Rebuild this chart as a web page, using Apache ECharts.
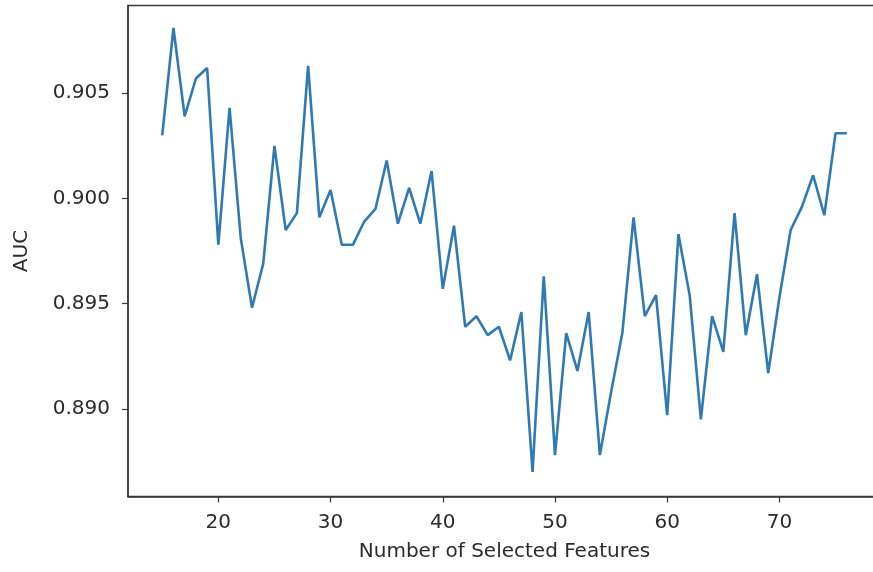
<!DOCTYPE html>
<html>
<head>
	<meta http-equiv="Content-Type" content="text/html; charset=UTF-8">
	<title>AUC vs Number of Selected Features</title>
	<script src="https://cdn.jsdelivr.net/npm/echarts@6/dist/echarts.min.js"></script>
	<style>
		body { margin: 0; background: #fff; }
	</style>
</head>
<body>

	<div id="main" style="width: 873px;height:572px;"></div>

	<script>
		// number of selected features (x)
		var features = [15, 16, 17, 18, 19, 20, 21, 22, 23, 24, 25, 26, 27, 28, 29, 30,
			31, 32, 33, 34, 35, 36, 37, 38, 39, 40, 41, 42, 43, 44, 45, 46,
			47, 48, 49, 50, 51, 52, 53, 54, 55, 56, 57, 58, 59, 60, 61, 62,
			63, 64, 65, 66, 67, 68, 69, 70, 71, 72, 73, 74, 75, 76];

		// AUC
		var auc = [0.9030, 0.9081, 0.9039, 0.9057, 0.9062, 0.8978, 0.9043, 0.8981,
			0.8948, 0.8969, 0.9025, 0.8985, 0.8993, 0.9063, 0.8991, 0.9004,
			0.8978, 0.8978, 0.8989, 0.8995, 0.9018, 0.8988, 0.9005, 0.8988,
			0.9013, 0.8957, 0.8987, 0.8939, 0.8944, 0.8935, 0.8939, 0.8923,
			0.8946, 0.8870, 0.8963, 0.8878, 0.8936, 0.8918, 0.8946, 0.8878,
			0.8908, 0.8936, 0.8991, 0.8944, 0.8954, 0.8897, 0.8983, 0.8954,
			0.8895, 0.8944, 0.8927, 0.8993, 0.8935, 0.8964, 0.8917, 0.8953,
			0.8985, 0.8996, 0.9011, 0.8992, 0.9031, 0.9031];

		var xTicks = [20, 30, 40, 50, 60, 70];
		var yTicks = [0.890, 0.895, 0.900, 0.905];

		var points = [];
		for (var i = 0; i < features.length; i++) {
			points.push([features[i], auc[i]]);
		}

		var chartDom = document.getElementById('main');
		var myChart = echarts.init(chartDom);

		var textColor = '#2b2b2b';
		var axisColor = '#3a3a3a';
		var fontFamily = 'DejaVu Sans';

		var option = {
			backgroundColor: '#fff',
			animation: false,
			grid: {
				left: 128,
				top: 5.5,
				width: 753,
				height: 491,
				outerBoundsMode: 'none',
				containLabel: false,
				show: true,
				borderColor: axisColor,
				borderWidth: 1.5
			},
			xAxis: {
				type: 'value',
				min: 11.95,
				max: 79.05,
				name: 'Number of Selected Features',
				nameLocation: 'middle',
				nameGap: 45,
				nameTextStyle: { color: textColor, fontSize: 20, fontFamily: fontFamily },
				axisLine: { show: true, lineStyle: { color: axisColor, width: 1.5 } },
				axisTick: { show: true, length: 6, customValues: xTicks, lineStyle: { color: axisColor, width: 1.2 } },
				axisLabel: {
					customValues: xTicks,
					margin: 16,
					color: textColor,
					fontSize: 20,
					fontFamily: fontFamily
				},
				splitLine: { show: false }
			},
			yAxis: {
				type: 'value',
				min: 0.88583,
				max: 0.90917,
				name: 'AUC',
				nameLocation: 'middle',
				nameRotate: 90,
				nameGap: 96,
				nameTextStyle: { color: textColor, fontSize: 20, fontFamily: fontFamily },
				axisLine: { show: true, lineStyle: { color: axisColor, width: 1.5 } },
				axisTick: { show: true, length: 6, customValues: yTicks, lineStyle: { color: axisColor, width: 1.2 } },
				axisLabel: {
					customValues: yTicks,
					margin: 18,
					color: textColor,
					fontSize: 20,
					fontFamily: fontFamily,
					formatter: function (v) { return v.toFixed(3); }
				},
				splitLine: { show: false }
			},
			series: [
				{
					type: 'line',
					data: points,
					symbol: 'none',
					lineStyle: { color: '#2f7ab5', width: 2.6 }
				}
			]
		};

		myChart.setOption(option);
	</script>

</body>
</html>
